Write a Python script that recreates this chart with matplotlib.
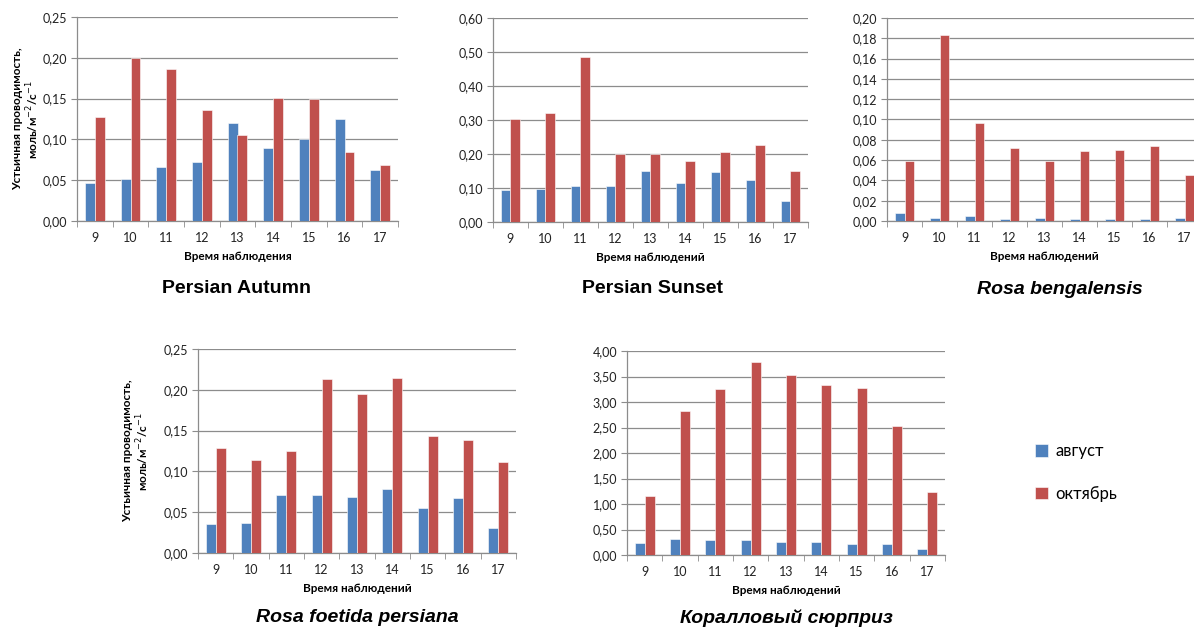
import numpy as np
import matplotlib.pyplot as plt
from matplotlib.ticker import FixedLocator, FuncFormatter

hours = ["9", "10", "11", "12", "13", "14", "15", "16", "17"]
series_names = ["август", "октябрь"]

# Persian Autumn
pa_aug = [0.046, 0.052, 0.066, 0.072, 0.120, 0.090, 0.100, 0.125, 0.063]
pa_oct = [0.127, 0.200, 0.186, 0.136, 0.106, 0.151, 0.149, 0.084, 0.069]
# Persian Sunset
ps_aug = [0.093, 0.098, 0.106, 0.105, 0.151, 0.115, 0.146, 0.123, 0.061]
ps_oct = [0.302, 0.322, 0.484, 0.200, 0.199, 0.178, 0.206, 0.227, 0.151]
# Rosa bengalensis
rb_aug = [0.0076, 0.003, 0.0046, 0.0023, 0.003, 0.0016, 0.002, 0.002, 0.003]
rb_oct = [0.059, 0.183, 0.097, 0.072, 0.059, 0.069, 0.070, 0.074, 0.045]
# Rosa foetida persiana
rf_aug = [0.035, 0.037, 0.0715, 0.0715, 0.069, 0.079, 0.055, 0.067, 0.031]
rf_oct = [0.129, 0.114, 0.125, 0.213, 0.195, 0.214, 0.143, 0.138, 0.112]
# Коралловый сюрприз
ks_aug = [0.23, 0.32, 0.30, 0.29, 0.25, 0.25, 0.21, 0.22, 0.12]
ks_oct = [1.16, 2.82, 3.25, 3.78, 3.53, 3.33, 3.27, 2.53, 1.24]

BLUE = "#4F81BD"
RED = "#C0504D"
GRID = "#8C8C8C"
TICKFONT = "Lato"
TITLEFONT = "Liberation Sans"

ylab = "Устьичная проводимость,\nмоль/м$^{-2}$/с$^{-1}$"

fig = plt.figure(figsize=(11.94, 6.3), dpi=100)


def panel(rect, aug, octo, ymax, step, xlabel, title, title_xy, italic=False,
          ylabel_x=None):
    ax = fig.add_axes(rect)
    x = np.arange(len(hours))
    w = 0.28
    ax.bar(x - w / 2, aug, w, color=BLUE, edgecolor="white", linewidth=0.4,
           label=series_names[0], zorder=3)
    ax.bar(x + w / 2, octo, w, color=RED, edgecolor="white", linewidth=0.4,
           label=series_names[1], zorder=3)
    ax.set_xlim(-0.5, len(hours) - 0.5)
    ax.set_ylim(0, ymax)
    yt = np.arange(0, ymax + step / 2, step)
    ax.yaxis.set_major_locator(FixedLocator(yt))
    ax.yaxis.set_major_formatter(FuncFormatter(lambda v, p: f"{v:.2f}".replace(".", ",")))
    ax.set_xticks(x)
    ax.set_xticklabels(hours)
    ax.xaxis.set_minor_locator(FixedLocator(np.arange(-0.5, len(hours), 1)))
    ax.tick_params(axis="x", which="major", length=0, pad=8)
    ax.tick_params(axis="x", which="minor", length=4, color=GRID, direction="out")
    ax.tick_params(axis="y", length=4, color=GRID, pad=3)
    ax.tick_params(labelsize=9)
    for lab in ax.get_xticklabels() + ax.get_yticklabels():
        lab.set_fontfamily(TICKFONT)
        lab.set_color("#222222")
    ax.grid(axis="y", color=GRID, linewidth=0.9, zorder=0)
    for s in ["top", "right"]:
        ax.spines[s].set_visible(False)
    for s in ["left", "bottom"]:
        ax.spines[s].set_color(GRID)
        ax.spines[s].set_linewidth(0.9)
    ax.set_xlabel(xlabel, fontsize=8.5, fontweight="bold", family=TICKFONT,
                  labelpad=5)
    if ylabel_x is not None:
        ax.set_ylabel(ylab, fontsize=8.5, fontweight="bold", family=TICKFONT,
                      linespacing=1.1)
        ax.yaxis.set_label_coords(ylabel_x, 0.5)
    fig.text(title_xy[0] / 1194, 1 - title_xy[1] / 630, title, ha="center",
             va="center", fontsize=14, fontweight="bold", family=TITLEFONT,
             style="italic" if italic else "normal")
    return ax


panel([77 / 1194, 1 - 221 / 630, 321 / 1194, 204 / 630], pa_aug, pa_oct,
      0.25, 0.05, "Время наблюдения", "Persian Autumn", (236, 289),
      ylabel_x=-0.113)
panel([493 / 1194, 1 - 222 / 630, 315 / 1194, 204 / 630], ps_aug, ps_oct,
      0.60, 0.10, "Время наблюдений", "Persian Sunset", (652, 289))
panel([887 / 1194, 1 - 221 / 630, 315 / 1194, 203 / 630], rb_aug, rb_oct,
      0.20, 0.02, "Время наблюдений", "Rosa bengalensis", (1060, 290),
      italic=True)
panel([198 / 1194, 1 - 553 / 630, 318 / 1194, 204 / 630], rf_aug, rf_oct,
      0.25, 0.05, "Время наблюдений", "Rosa foetida persiana", (357, 618),
      italic=True, ylabel_x=-0.147)
ax5 = panel([627 / 1194, 1 - 555 / 630, 318 / 1194, 204 / 630], ks_aug, ks_oct,
            4.00, 0.50, "Время наблюдений", "Коралловый сюрприз", (786, 618),
            italic=True)

handles, labels = ax5.get_legend_handles_labels()
fig.legend(handles, labels, loc="upper left",
           bbox_to_anchor=(1020 / 1194, 1 - 428 / 630), frameon=False,
           handlelength=0.8, handleheight=0.8, handletextpad=0.4,
           labelspacing=1.6, prop={"family": TICKFONT, "size": 12})

fig.savefig("out.png", dpi=100)
